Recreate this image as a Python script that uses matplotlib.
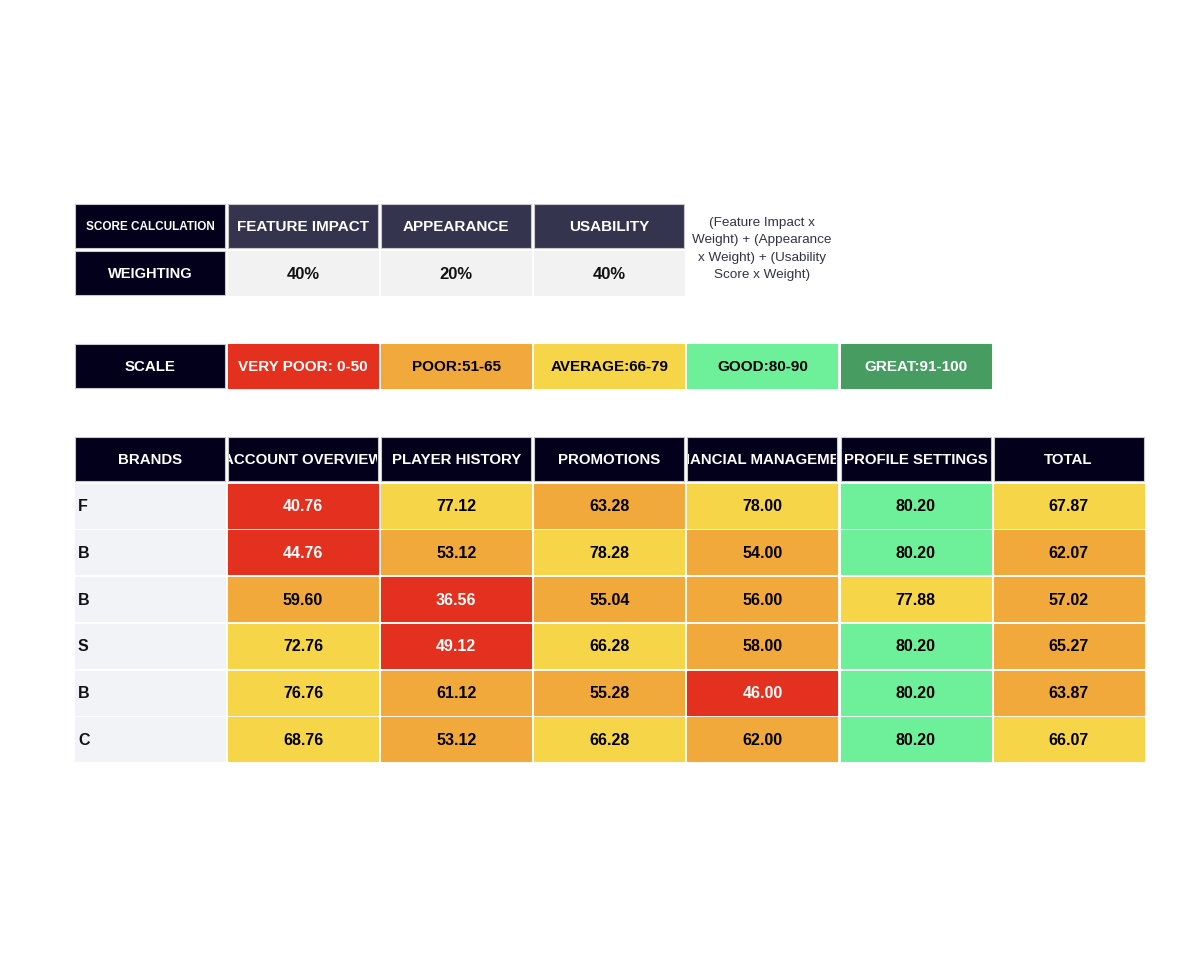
import matplotlib
matplotlib.use("Agg")
import matplotlib.pyplot as plt
from matplotlib.patches import Rectangle
from matplotlib.transforms import Bbox, TransformedBbox

plt.rcParams['font.family'] = ['Liberation Sans', 'DejaVu Sans']

# data
weight_labels = ["FEATURE IMPACT", "APPEARANCE", "USABILITY"]
weights = ["40%", "20%", "40%"]
formula = "(Feature Impact x\nWeight) + (Appearance\nx Weight) + (Usability\nScore x Weight)"

scale_labels = ["VERY POOR: 0-50", "POOR:51-65", "AVERAGE:66-79", "GOOD:80-90", "GREAT:91-100"]
scale_colors = ["#e3301f", "#f2a93b", "#f7d548", "#6ef09b", "#479c61"]
scale_text = ["white", "black", "black", "black", "white"]

columns = ["ACCOUNT OVERVIEW", "PLAYER HISTORY", "PROMOTIONS",
           "FINANCIAL MANAGEMENT", "PROFILE SETTINGS", "TOTAL"]
brands = ["F", "B", "B", "S", "B", "C"]
scores = [
    [40.76, 77.12, 63.28, 78.00, 80.20, 67.87],
    [44.76, 53.12, 78.28, 54.00, 80.20, 62.07],
    [59.60, 36.56, 55.04, 56.00, 77.88, 57.02],
    [72.76, 49.12, 66.28, 58.00, 80.20, 65.27],
    [76.76, 61.12, 55.28, 46.00, 80.20, 63.87],
    [68.76, 53.12, 66.28, 62.00, 80.20, 66.07],
]

NAVY = "#03001c"
SLATE = "#35344f"
EDGE = "#c8c8cc"


def band(v):
    if v <= 50:
        return 0
    if v < 66:
        return 1
    if v < 80:
        return 2
    if v < 91:
        return 3
    return 4


fig = plt.figure(figsize=(12, 9.8), dpi=100)
ax = fig.add_axes([0, 0, 1, 1])
ax.set_xlim(0, 1200)
ax.set_ylim(980, 0)
ax.axis("off")

X0, CW, GAP = 75, 150, 3.1
RH = 44


def cell(col, y, h, fc, txt="", color="white", size=11, edge=None, w=CW):
    x = X0 + col * (CW + GAP)
    r = Rectangle((x, y), w, h, facecolor=fc, edgecolor=edge or fc, lw=0.8)
    ax.add_patch(r)
    if txt:
        t = ax.text(x + w / 2, y + h / 2 + 1, txt, ha="center", va="center",
                    color=color, fontsize=size, fontweight="bold")
        # text that overflows the cell is cut at its edges
        t.set_clip_on(True)
        t.set_clip_box(TransformedBbox(Bbox.from_extents(x + 1, y, x + w - 1, y + h),
                                       ax.transData))
    return r


# score calculation table
cell(0, 204, RH, NAVY, "SCORE CALCULATION", size=8.5, edge=EDGE)
for i, lab in enumerate(weight_labels):
    cell(i + 1, 204, RH, SLATE, lab, size=11, edge=EDGE)
cell(0, 251, RH, NAVY, "WEIGHTING", size=10.5, edge=EDGE)
for i, wv in enumerate(weights):
    cell(i + 1, 251, RH, "#f2f2f2", wv, color="#111111", size=12)
ax.text(762, 249, formula, ha="center", va="center", fontsize=9.7,
        color="#333344", linespacing=1.62)

# scale row
cell(0, 344, RH, NAVY, "SCALE", size=10.8, edge=EDGE)
for i, lab in enumerate(scale_labels):
    cell(i + 1, 344, RH, scale_colors[i], lab, color=scale_text[i], size=11)

# main table
HY = 437
cell(0, HY, RH, NAVY, "BRANDS", size=10.8, edge=EDGE)
for j, c in enumerate(columns):
    cell(j + 1, HY, RH, NAVY, c, size=10.8, edge=EDGE)

for i, (b, row) in enumerate(zip(brands, scores)):
    y = HY + (i + 1) * 46.7
    cell(0, y, RH, "#f2f3f7")
    ax.text(X0 + 3, y + RH / 2 + 1, b, ha="left", va="center", fontsize=11.5,
            fontweight="bold", color="#111111")
    for j, v in enumerate(row):
        k = band(v)
        cell(j + 1, y, RH, scale_colors[k], f"{v:.2f}", color=scale_text[k], size=11.5)

fig.savefig("out.png", dpi=100, facecolor="white")
